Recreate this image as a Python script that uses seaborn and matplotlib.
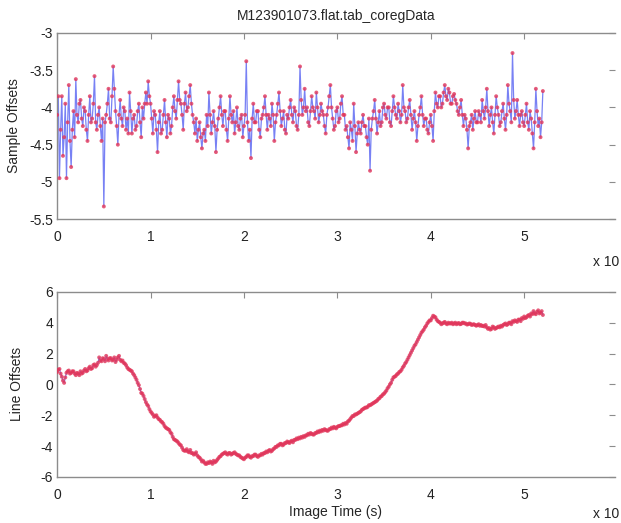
import matplotlib
matplotlib.use("Agg")
import matplotlib.pyplot as plt
import numpy as np
import pandas as pd
import seaborn as sns

sns.set_theme(style="white")
plt.rcParams["font.family"] = ["Liberation Sans", "DejaVu Sans"]

title = "M123901073.flat.tab_coregData"
t_start, t_end = 0.0, 5.2  # image time, in units of the x10 multiplier

# one row = 0.25 time units (20 samples)
sample_offsets = [
    -4.10, -3.85, -4.95, -4.30, -3.85, -4.65, -4.40, -3.95, -4.95, -4.20, -3.70, -4.45, -4.80, -4.30, -4.05, -4.40, -3.62, -4.10, -4.20, -3.95,
    -3.90, -4.15, -4.25, -4.00, -4.05, -4.30, -4.45, -4.10, -3.85, -4.20, -4.15, -3.95, -3.58, -4.20, -4.30, -4.10, -4.00, -4.25, -4.45, -4.15,
    -5.33, -4.20, -4.10, -3.95, -3.75, -4.15, -4.20, -3.85, -3.45, -3.75, -4.05, -4.25, -4.50, -4.10, -3.90, -4.15, -4.25, -4.00, -4.05, -4.30,
    -4.15, -4.35, -3.80, -4.05, -4.35, -4.15, -4.10, -4.30, -4.25, -4.05, -3.95, -4.20, -4.40, -4.00, -4.15, -3.95, -3.80, -3.95, -3.65, -3.85,
    -3.95, -4.15, -4.35, -4.05, -4.10, -4.30, -4.60, -4.20, -4.05, -4.35, -4.30, -4.10, -3.90, -4.20, -4.40, -4.10, -4.15, -4.35, -4.25, -4.00,
    -3.85, -4.05, -4.15, -3.90, -3.65, -3.90, -3.95, -4.10, -4.30, -3.95, -3.80, -4.05, -4.00, -3.85, -3.70, -3.95, -4.10, -4.20, -4.35, -4.15,
    -4.45, -4.30, -4.20, -4.40, -4.55, -4.35, -4.30, -4.45, -4.10, -4.25, -3.80, -4.10, -4.35, -4.20, -4.05, -4.25, -4.60, -4.30, -4.15, -4.00,
    -3.85, -4.10, -4.25, -4.05, -4.05, -4.30, -4.45, -4.15, -3.85, -4.10, -4.20, -4.05, -4.35, -4.20, -4.00, -4.25, -4.30, -4.15, -4.10, -4.40,
    -4.25, -4.10, -3.38, -4.20, -4.45, -4.30, -4.68, -4.15, -3.95, -4.20, -4.20, -4.05, -4.05, -4.30, -4.40, -4.15, -4.10, -4.00, -3.85, -4.10,
    -4.30, -4.10, -4.15, -4.25, -3.95, -4.10, -4.45, -4.20, -4.10, -3.95, -3.80, -4.05, -4.25, -4.15, -4.05, -4.30, -4.35, -4.10, -4.15, -4.00,
    -3.90, -4.10, -4.20, -4.00, -4.05, -4.25, -4.30, -4.10, -3.45, -3.90, -4.10, -4.00, -3.75, -4.05, -4.00, -4.20, -4.25, -4.05, -3.85, -4.00,
    -4.05, -4.15, -3.80, -4.00, -4.20, -4.10, -3.95, -4.05, -4.10, -4.25, -4.35, -4.10, -4.00, -3.85, -3.70, -4.00, -4.15, -4.30, -4.25, -4.05,
    -4.00, -4.20, -4.15, -3.95, -3.85, -4.10, -4.10, -4.30, -4.25, -4.40, -4.55, -4.20, -4.30, -4.45, -3.95, -4.25, -4.60, -4.35, -4.20, -4.30,
    -4.35, -4.20, -4.10, -4.25, -4.25, -4.40, -4.50, -4.15, -4.85, -4.30, -4.15, -4.05, -3.90, -4.15, -4.35, -4.20, -4.05, -4.25, -4.20, -4.00,
    -3.95, -4.10, -4.15, -4.00, -4.00, -4.20, -4.25, -4.05, -3.85, -4.00, -4.10, -4.15, -3.95, -4.05, -4.20, -4.10, -3.70, -4.00, -4.05, -4.20,
    -4.15, -4.00, -3.90, -4.10, -4.30, -4.15, -4.05, -4.20, -4.45, -4.25, -4.10, -4.00, -3.85, -4.10, -4.25, -4.15, -4.15, -4.30, -4.35, -4.20,
    -4.10, -4.25, -4.45, -4.05, -3.80, -3.95, -4.00, -3.85, -3.85, -4.00, -3.95, -3.80, -3.70, -3.85, -3.90, -3.75, -3.80, -3.95, -3.95, -3.85,
    -3.82, -3.90, -3.95, -4.05, -4.10, -4.00, -3.90, -4.10, -4.25, -4.10, -4.15, -4.30, -4.55, -4.25, -4.20, -4.10, -4.30, -4.15, -4.05, -4.20,
    -4.20, -4.05, -4.10, -4.20, -3.90, -4.05, -4.15, -4.00, -3.75, -4.05, -4.25, -4.10, -4.00, -4.20, -4.35, -4.10, -3.85, -4.00, -4.10, -4.25,
    -4.20, -4.05, -3.95, -4.15, -4.30, -4.10, -3.70, -3.95, -4.05, -4.20, -3.27, -3.90, -4.15, -4.05, -3.90, -4.10, -4.25, -4.10, -4.05, -4.20,
    -4.25, -4.10, -3.95, -4.20, -4.30, -4.05, -4.15, -4.35, -4.55, -4.20, -3.75, -4.05, -4.25, -4.15, -4.40, -4.20, -3.78,
]

line_offsets = [
    0.80, 0.95, 1.00, 0.70, 0.50, 0.25, 0.10, 0.45, 0.75, 0.85, 0.90, 0.70, 0.75, 0.85, 0.85, 0.70, 0.60, 0.75, 0.70, 0.60,
    0.85, 0.70, 0.75, 0.90, 1.00, 0.85, 0.90, 1.05, 1.15, 1.00, 1.05, 1.25, 1.30, 1.15, 1.25, 1.40, 1.75, 1.55, 1.50, 1.70,
    1.65, 1.50, 1.85, 1.65, 1.55, 1.70, 1.70, 1.55, 1.60, 1.75, 1.45, 1.60, 1.75, 1.85, 1.60, 1.50, 1.55, 1.40, 1.35, 1.25,
    1.10, 1.00, 0.95, 0.90, 0.85, 0.70, 0.60, 0.45, 0.30, 0.10, -0.05, -0.30, -0.55, -0.60, -0.75, -0.95, -1.15, -1.30, -1.40, -1.60,
    -1.75, -1.85, -1.95, -2.10, -2.05, -2.00, -2.15, -2.25, -2.30, -2.40, -2.45, -2.55, -2.70, -2.80, -2.85, -2.90, -2.95, -3.10, -3.20, -3.40,
    -3.55, -3.60, -3.65, -3.70, -3.80, -3.90, -3.95, -4.10, -4.25, -4.30, -4.30, -4.20, -4.35, -4.40, -4.25, -4.45, -4.45, -4.55, -4.50, -4.40,
    -4.60, -4.70, -4.75, -4.85, -5.00, -4.95, -5.05, -5.15, -5.15, -5.05, -5.10, -5.00, -5.05, -5.15, -4.95, -5.05, -5.00, -4.90, -4.80, -4.70,
    -4.65, -4.55, -4.50, -4.45, -4.40, -4.50, -4.55, -4.45, -4.45, -4.55, -4.50, -4.45, -4.40, -4.50, -4.55, -4.60, -4.60, -4.70, -4.75, -4.80,
    -4.85, -4.75, -4.70, -4.60, -4.60, -4.70, -4.75, -4.65, -4.65, -4.55, -4.55, -4.65, -4.70, -4.60, -4.60, -4.50, -4.55, -4.45, -4.45, -4.35,
    -4.40, -4.30, -4.25, -4.35, -4.30, -4.20, -4.15, -4.05, -4.05, -3.95, -3.95, -3.85, -3.85, -3.95, -3.90, -3.80, -3.80, -3.70, -3.75, -3.80,
    -3.70, -3.65, -3.75, -3.60, -3.60, -3.50, -3.55, -3.45, -3.50, -3.40, -3.45, -3.35, -3.40, -3.30, -3.30, -3.20, -3.25, -3.15, -3.20, -3.25,
    -3.25, -3.15, -3.15, -3.05, -3.10, -3.00, -3.05, -2.95, -3.00, -2.90, -2.95, -3.00, -3.00, -2.90, -2.90, -2.80, -2.85, -2.75, -2.80, -2.85,
    -2.75, -2.70, -2.70, -2.65, -2.65, -2.55, -2.60, -2.50, -2.55, -2.40, -2.35, -2.25, -2.15, -2.05, -2.05, -1.95, -1.95, -1.90, -1.85, -1.80,
    -1.75, -1.65, -1.60, -1.55, -1.50, -1.50, -1.45, -1.35, -1.35, -1.30, -1.25, -1.20, -1.15, -1.10, -1.05, -0.95, -0.90, -0.80, -0.75, -0.65,
    -0.60, -0.50, -0.40, -0.25, -0.15, 0.00, 0.10, 0.30, 0.45, 0.50, 0.55, 0.65, 0.70, 0.80, 0.85, 0.95, 1.10, 1.20, 1.35, 1.45,
    1.60, 1.75, 1.90, 2.05, 2.20, 2.35, 2.50, 2.60, 2.75, 2.90, 3.05, 3.20, 3.35, 3.45, 3.55, 3.70, 3.80, 3.95, 4.05, 4.15,
    4.15, 4.30, 4.45, 4.40, 4.35, 4.20, 4.10, 4.05, 4.00, 3.90, 3.95, 4.00, 4.05, 3.95, 3.90, 4.00, 3.95, 3.95, 4.00, 3.90,
    3.95, 4.00, 3.90, 3.95, 3.98, 3.90, 3.92, 4.00, 4.00, 3.95, 3.95, 3.88, 3.90, 3.95, 3.93, 3.85, 3.88, 3.90, 3.85, 3.80,
    3.85, 3.90, 3.80, 3.85, 3.78, 3.80, 3.75, 3.85, 3.70, 3.60, 3.65, 3.55, 3.60, 3.75, 3.70, 3.60, 3.65, 3.70, 3.75, 3.70,
    3.80, 3.75, 3.85, 3.90, 3.95, 3.85, 3.90, 4.00, 4.00, 3.90, 4.10, 4.05, 4.15, 4.10, 4.05, 4.20, 4.20, 4.10, 4.30, 4.25,
    4.40, 4.30, 4.35, 4.45, 4.50, 4.40, 4.60, 4.55, 4.75, 4.60, 4.55, 4.70, 4.80, 4.60, 4.65, 4.75, 4.50,
]

x_ticks = [0, 1, 2, 3, 4, 5]
top_yticks = [-5.5, -5, -4.5, -4, -3.5, -3]
bottom_yticks = [-6, -4, -2, 0, 2, 4, 6]

LINE_BLUE = "#3f4cf0"
DOT_RED = "#e2365a"
SPINE = "#8c8c8c"

time = np.linspace(t_start, t_end, len(sample_offsets))
df = pd.DataFrame({"time": time, "sample": sample_offsets, "line": line_offsets})


def style_axes(ax, yticks, ylim):
    ax.set_xlim(0, 5.97)
    ax.set_ylim(*ylim)
    ax.set_xticks(x_ticks)
    ax.set_xticklabels([str(v) for v in x_ticks])
    ax.set_yticks(yticks)
    ax.set_yticklabels([f"{v:g}" for v in yticks])
    for side in ["left", "bottom", "top"]:
        ax.spines[side].set_visible(True)
        ax.spines[side].set_color(SPINE)
        ax.spines[side].set_linewidth(1.0)
    ax.spines["right"].set_visible(False)
    ax.tick_params(direction="in", length=4, width=0.8, color=SPINE,
                   top=True, right=True, labelsize=10, labelcolor="#222222")
    ax.tick_params(axis="x", pad=8)
    ax.tick_params(axis="y", pad=3)
    ax.grid(False)


fig = plt.figure(figsize=(6.21, 5.23), dpi=100)
ax1 = fig.add_axes([0.092, 0.581, 0.898, 0.356])
ax2 = fig.add_axes([0.092, 0.088, 0.898, 0.354])

for ax, col in [(ax1, "sample"), (ax2, "line")]:
    sns.lineplot(data=df, x="time", y=col, ax=ax, color=LINE_BLUE,
                 linewidth=0.9, alpha=0.7)
    sns.scatterplot(data=df, x="time", y=col, ax=ax, color=DOT_RED,
                    s=8, edgecolor="none", alpha=0.8, zorder=3)
    ax.set_xlabel("")

style_axes(ax1, top_yticks, (-5.5, -3))
style_axes(ax2, bottom_yticks, (-6, 6))

ax1.set_ylabel("Sample Offsets", fontsize=10, labelpad=6)
ax2.set_ylabel("Line Offsets", fontsize=10, labelpad=12)
ax2.set_xlabel("Image Time (s)", fontsize=10, labelpad=2)
ax1.set_title(title, fontsize=10, pad=9)

fig.text(0.955, 0.499, "x 10", fontsize=10, ha="left", va="center", color="#222222")
fig.text(0.955, 0.004, "x 10", fontsize=10, ha="left", va="bottom", color="#222222")

fig.savefig("out.png", dpi=100)
